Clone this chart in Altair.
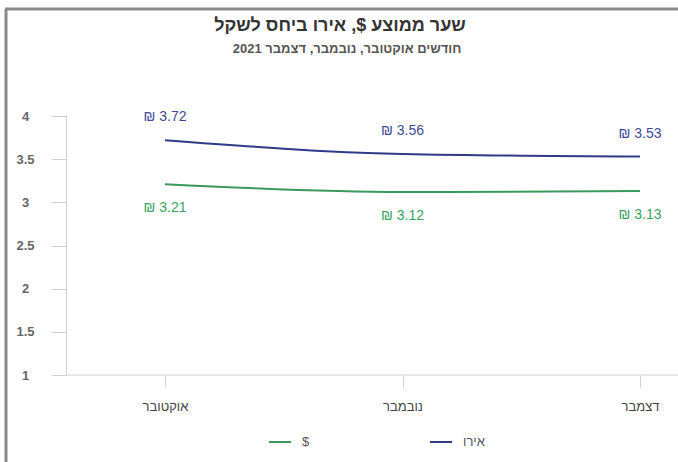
import altair as alt
import pandas as pd

months = ["אוקטובר", "נובמבר", "דצמבר"]
usd = [3.21, 3.12, 3.13]
eur = [3.72, 3.56, 3.53]
series_names = ["$", "אירו"]
y_ticks = [1, 1.5, 2, 2.5, 3, 3.5, 4]
title_text = "שער ממוצע $, אירו ביחס לשקל"
subtitle_text = "חודשים אוקטובר, נובמבר, דצמבר 2021"

rows = []
for m, u, e in zip(months, usd, eur):
    rows.append({"month": m, "series": "$", "value": u, "label": f"₪ {u:.2f}"})
    rows.append({"month": m, "series": "אירו", "value": e, "label": f"₪ {e:.2f}"})
df = pd.DataFrame(rows)
one = pd.DataFrame({"k": [0]})

line_colors = ["#3a9a5b", "#2f3b86"]
label_colors = {"$": "#3aa263", "אירו": "#3d4a99"}
FONT = "Liberation Sans"

x_enc = alt.X(
    "month:N",
    sort=months,
    scale=alt.Scale(type="point", range=[99, 574], padding=0),
    axis=alt.Axis(
        title=None, labelAngle=0, domain=False, tickColor="#d0d0d0",
        tickSize=12, labelPadding=13, labelFontSize=13, labelColor="#444",
        labelFont=FONT, grid=False,
    ),
)
y_enc = alt.Y(
    "value:Q",
    scale=alt.Scale(domain=[1, 4], nice=False, zero=False),
    axis=alt.Axis(
        title=None, values=y_ticks, format="~g", domainColor="#d0d0d0",
        tickColor="#d0d0d0", tickSize=15, labelPadding=26, labelAlign="center",
        labelFontSize=13, labelFontWeight="bold", labelColor="#666",
        labelFont=FONT, grid=False,
    ),
)

lines = alt.Chart(df).mark_line(strokeWidth=2, interpolate="monotone").encode(
    x=x_enc,
    y=y_enc,
    color=alt.Color(
        "series:N",
        scale=alt.Scale(domain=series_names, range=line_colors),
        legend=alt.Legend(
            title=None, orient="none", direction="horizontal",
            legendX=202, legendY=314, symbolType="stroke", symbolSize=484,
            symbolStrokeWidth=2, labelFontSize=13, labelColor="#555",
            labelFont=FONT, columnPadding=116, labelOffset=10,
        ),
    ),
)

eur_labels = alt.Chart(df).transform_filter(alt.datum.series == "אירו").mark_text(
    dy=-23, fontSize=14, font=FONT, color=label_colors["אירו"]
).encode(x=alt.X("month:N", sort=months), y="value:Q", text="label:N")

usd_labels = alt.Chart(df).transform_filter(alt.datum.series == "$").mark_text(
    dy=24, fontSize=14, font=FONT, color=label_colors["$"]
).encode(x=alt.X("month:N", sort=months), y="value:Q", text="label:N")

# full-width baseline under the plot
x_baseline = alt.Chart(one).mark_rule(color="#d0d0d0", strokeWidth=1).encode(
    x=alt.value(0), x2=alt.value(612), y=alt.value(259)
)

# frame lines along the left and top edges of the card
frame_left = alt.Chart(one).mark_rule(color="#8a8a8a", strokeWidth=3).encode(
    x=alt.value(-60), y=alt.value(-107), y2=alt.value(360)
)
frame_top = alt.Chart(one).mark_rule(color="#8a8a8a", strokeWidth=3).encode(
    x=alt.value(-61), x2=alt.value(620), y=alt.value(-107)
)

title = alt.Chart(one).mark_text(
    fontSize=18, fontWeight="bold", color="#333", font=FONT, baseline="alphabetic"
).encode(x=alt.value(274), y=alt.value(-85), text=alt.value(title_text))

subtitle = alt.Chart(one).mark_text(
    fontSize=13, fontWeight="bold", color="#555", font=FONT, baseline="alphabetic"
).encode(x=alt.value(281), y=alt.value(-63), text=alt.value(subtitle_text))

chart = alt.layer(
    frame_left, frame_top, x_baseline, lines, eur_labels, usd_labels, title, subtitle
).properties(
    width=612,
    height=259,
    padding={"left": 66, "top": 116, "right": 0, "bottom": 87},
    autosize=alt.AutoSizeParams(type="none"),
    background="white",
).configure_view(stroke=None)

chart.save("out.html", embed_options={"renderer": "svg", "actions": False})
